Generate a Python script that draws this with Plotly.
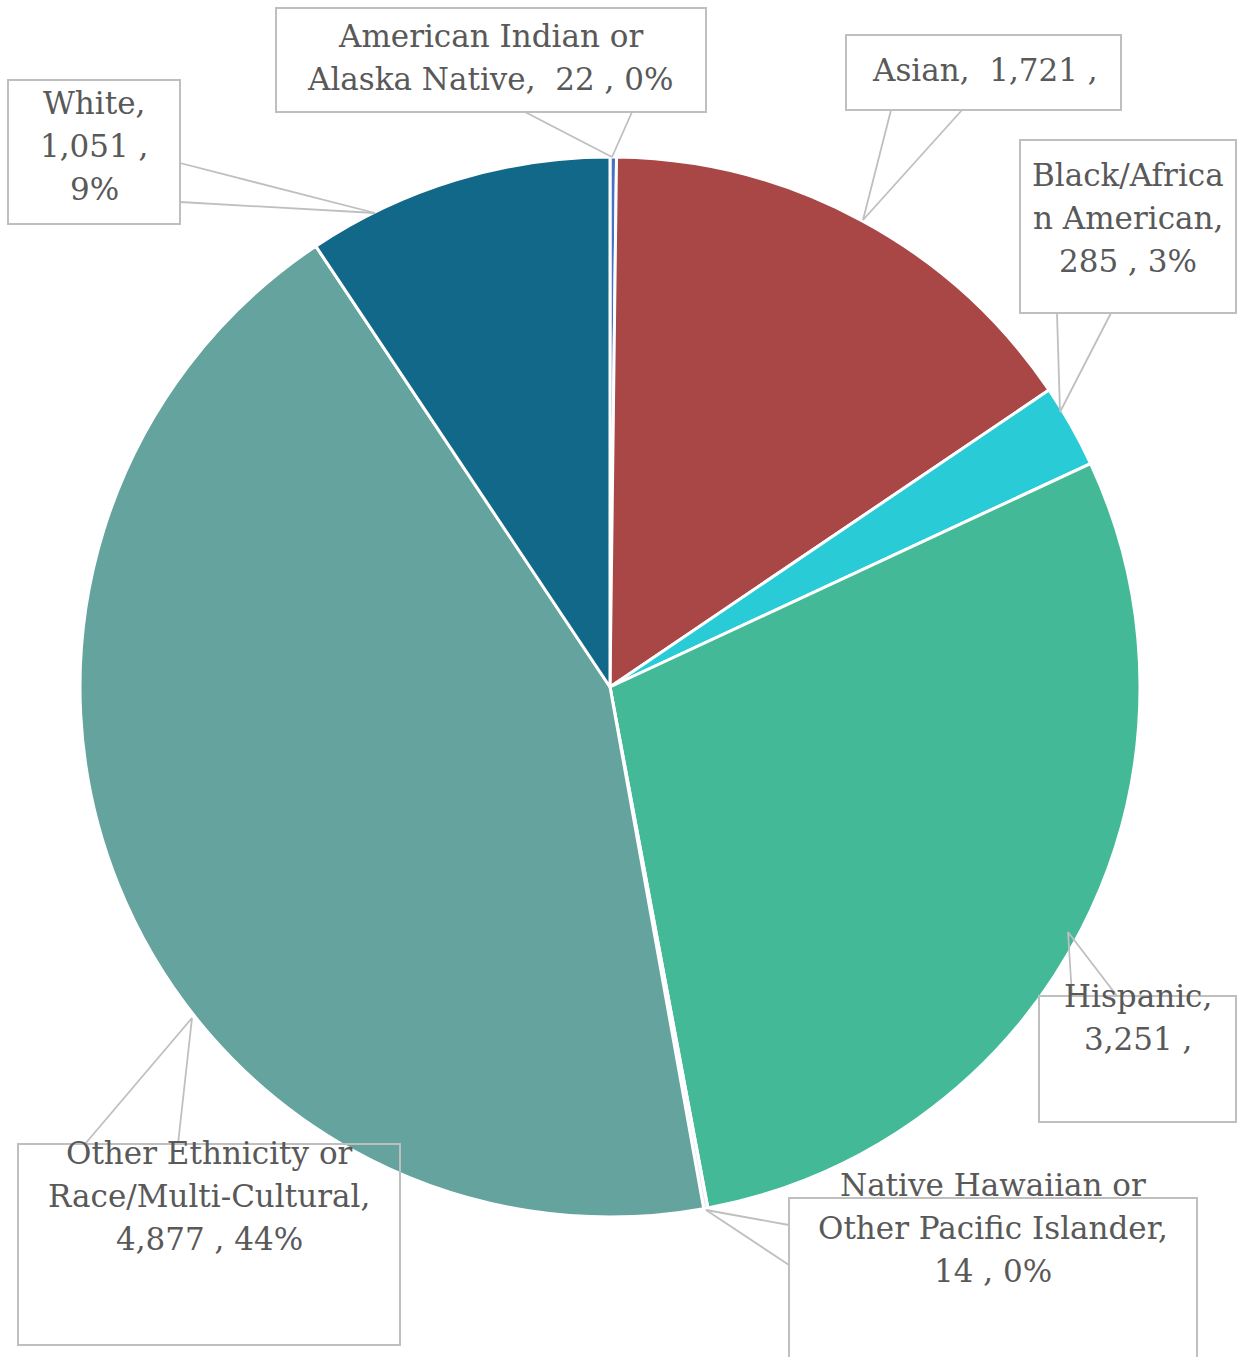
import plotly.graph_objects as go

W, H = 1237, 1357

categories = ["American Indian or Alaska Native", "Asian", "Black/African American",
              "Hispanic", "Native Hawaiian or Other Pacific Islander",
              "Other Ethnicity or Race/Multi-Cultural", "White"]
values = [22, 1721, 285, 3251, 14, 4877, 1051]
pct_labels = ["0%", "15%", "3%", "29%", "0%", "44%", "9%"]
colors = ["#4472C4", "#A84745", "#29CCD6", "#44B997", "#DCEAF6", "#64A39E", "#116888"]

# Label text lines (as wrapped in the reference; some boxes clip the last line)
def fmt(v):
    return f"{v:,}"

label_lines = [
    ["American Indian or", f"Alaska Native,  {fmt(values[0])} , {pct_labels[0]}"],
    [f"Asian,  {fmt(values[1])} ,"],
    ["Black/Africa", "n American,", f"{fmt(values[2])} , {pct_labels[2]}"],
    ["Hispanic,", f"{fmt(values[3])} ,"],
    ["Native Hawaiian or", "Other Pacific Islander,", f"{fmt(values[4])} , {pct_labels[4]}"],
    ["Other Ethnicity or", "Race/Multi-Cultural,", f"{fmt(values[5])} , {pct_labels[5]}"],
    ["White,", f"{fmt(values[6])} ,", pct_labels[6]],
]

# Layout of callouts (pixels): box [x0, y0, x1, y1], text center x, first line y,
# callout base points and tip
label_layout = [
    dict(box=(276, 8, 706, 112), tx=490, ty=36, base=[(525, 112), (632, 112)], tip=(612, 157)),
    dict(box=(846, 35, 1121, 110), tx=985, ty=70, base=[(891, 110), (962, 110)], tip=(863, 220)),
    dict(box=(1020, 140, 1236, 313), tx=1128, ty=175, base=[(1057, 313), (1111, 313)], tip=(1060, 412)),
    dict(box=(1039, 996, 1236, 1122), tx=1138, ty=996, base=[(1072, 996), (1117, 996)], tip=(1068, 932)),
    dict(box=(789, 1198, 1197, 1360), tx=993, ty=1185, base=[(789, 1225), (789, 1265)], tip=(706, 1210)),
    dict(box=(18, 1144, 400, 1345), tx=209, ty=1153, base=[(85, 1144), (178, 1144)], tip=(192, 1018)),
    dict(box=(8, 80, 180, 224), tx=94, ty=103, base=[(180, 163), (180, 202)], tip=(375, 213)),
]
LINE_H = 43

def px(x):
    return x / W

def py(y):
    return 1 - y / H

cx, cy, R = 610, 687, 530

fig = go.Figure(go.Pie(
    labels=categories,
    values=values,
    sort=False,
    direction="clockwise",
    rotation=0,
    marker=dict(colors=colors, line=dict(color="white", width=3)),
    textinfo="none",
    hoverinfo="label+value+percent",
    showlegend=False,
    domain=dict(x=[px(cx - R), px(cx + R)], y=[py(cy + R), py(cy - R)]),
))

shapes = []
annotations = []
line_col = "#BFBFBF"
txt_col = "#595959"
font_family = "DejaVu Serif"
for lines, lay in zip(label_lines, label_layout):
    x0, y0, x1, y1 = lay["box"]
    shapes.append(dict(type="rect", xref="paper", yref="paper",
                       x0=px(x0), x1=px(x1), y0=py(y1), y1=py(y0),
                       line=dict(color=line_col, width=2), fillcolor="rgba(0,0,0,0)",
                       layer="above"))
    (bx0, by0), (bx1, by1) = lay["base"]
    tx, ty = lay["tip"]
    for bx, by in [(bx0, by0), (bx1, by1)]:
        shapes.append(dict(type="line", xref="paper", yref="paper",
                           x0=px(bx), y0=py(by), x1=px(tx), y1=py(ty),
                           line=dict(color=line_col, width=1.8), layer="above"))
    for k, ln in enumerate(lines):
        annotations.append(dict(text=ln, xref="paper", yref="paper",
                                x=px(lay["tx"]), y=py(lay["ty"] + k * LINE_H),
                                xanchor="center", yanchor="middle", showarrow=False,
                                font=dict(family=font_family, size=31, color=txt_col)))

fig.update_layout(
    width=W, height=H,
    margin=dict(l=0, r=0, t=0, b=0),
    paper_bgcolor="white", plot_bgcolor="white",
    shapes=shapes, annotations=annotations,
)

fig.write_html("out.html", config={"displayModeBar": False},
               post_script="document.body.style.margin='0';document.body.style.overflow='hidden';")
